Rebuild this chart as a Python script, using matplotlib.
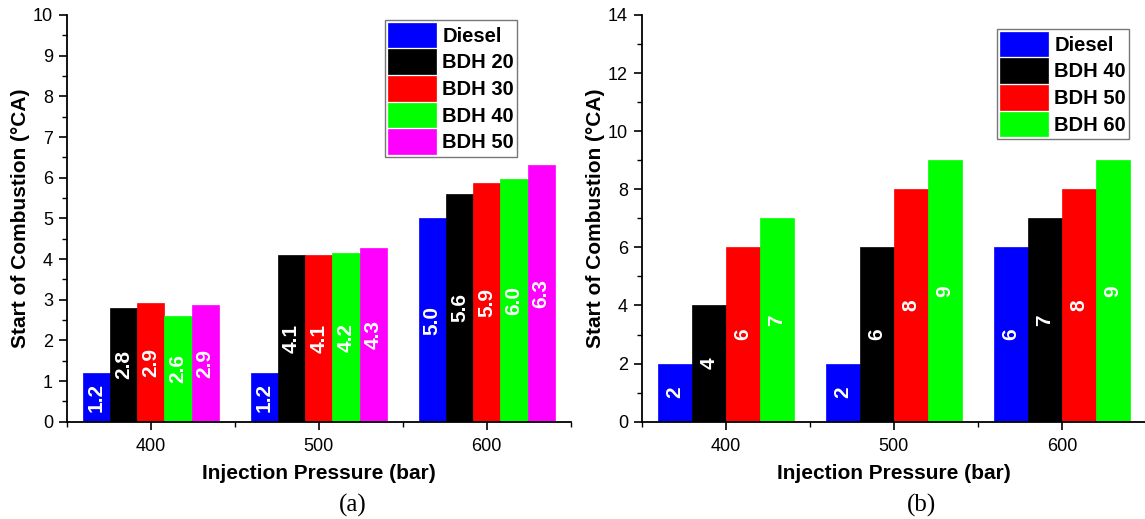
import matplotlib
matplotlib.use("Agg")
import matplotlib.pyplot as plt
import numpy as np
from matplotlib.ticker import MultipleLocator

plt.rcParams['font.family'] = ['Liberation Sans', 'DejaVu Sans']

# Chart (a)
pressures = [400, 500, 600]
labels_a = ["Diesel", "BDH 20", "BDH 30", "BDH 40", "BDH 50"]
colors_a = ["#0000FF", "#000000", "#FF0000", "#00FF00", "#FF00FF"]
soc_a = [
    [1.2, 1.2, 5.0],     # Diesel
    [2.8, 4.1, 5.6],     # BDH 20
    [2.92, 4.1, 5.86],   # BDH 30
    [2.6, 4.16, 5.97],   # BDH 40
    [2.86, 4.28, 6.3],   # BDH 50
]

# Chart (b)
labels_b = ["Diesel", "BDH 40", "BDH 50", "BDH 60"]
colors_b = ["#0000FF", "#000000", "#FF0000", "#00FF00"]
soc_b = [
    [2, 2, 6],   # Diesel
    [4, 6, 7],   # BDH 40
    [6, 8, 8],   # BDH 50
    [7, 9, 9],   # BDH 60
]


def draw_panel(ax, series, names, colors, group_w, fmt, ymax, ymajor, yminor, leg_anchor):
    n = len(series)
    w = group_w / n
    x = np.array(pressures, dtype=float)
    for i, (vals, name, c) in enumerate(zip(series, names, colors)):
        pos = x - group_w / 2 + w * (i + 0.5)
        ax.bar(pos, vals, width=w, color=c, edgecolor=c, linewidth=0.5, label=name, zorder=2)
        for px, v in zip(pos, vals):
            ax.text(px, v / 2, fmt.format(v), rotation=90, ha="center", va="center",
                    color="white", fontweight="bold", fontsize=15, zorder=3)

    ax.set_xlim(350, 650)
    ax.set_ylim(0, ymax)
    ax.set_xticks(pressures)
    ax.set_xticks([350, 450, 550, 650], minor=True)
    ax.yaxis.set_major_locator(MultipleLocator(ymajor))
    ax.yaxis.set_minor_locator(MultipleLocator(yminor))
    for s in ["top", "right"]:
        ax.spines[s].set_visible(False)
    for s in ["left", "bottom"]:
        ax.spines[s].set_linewidth(1.3)
    ax.tick_params(which="major", direction="out", length=6, width=1.2, labelsize=13)
    ax.tick_params(which="minor", direction="out", length=3.5, width=1.0)
    ax.tick_params(axis="y", pad=4)
    ax.tick_params(axis="x", pad=6)
    ax.set_xlabel("Injection Pressure (bar)", fontsize=15, fontweight="bold", labelpad=6)
    ax.set_ylabel("Start of Combustion (°CA)", fontsize=15, fontweight="bold", labelpad=2)

    leg = ax.legend(loc="upper right", bbox_to_anchor=leg_anchor, borderaxespad=0,
                    prop={"weight": "bold", "size": 14.5}, handlelength=2.4,
                    handleheight=1.5, labelspacing=0.1, handletextpad=0.3,
                    borderpad=0.15, fancybox=False, framealpha=1)
    leg.get_frame().set_edgecolor("#777777")
    leg.get_frame().set_linewidth(1.0)


fig = plt.figure(figsize=(11.45, 5.19), dpi=100)
ax1 = fig.add_axes([0.0584, 0.1875, 0.44, 0.7836])
ax2 = fig.add_axes([0.5607, 0.1875, 0.44, 0.7836])

draw_panel(ax1, soc_a, labels_a, colors_a, 81, "{:.1f}", 10, 1, 0.5, (0.894, 0.988))
draw_panel(ax2, soc_b, labels_b, colors_b, 81, "{:d}", 14, 2, 1, (0.967, 0.966))

fig.text(353 / 1145, 1 - 505 / 519, "(a)", ha="center", va="center",
         family="Liberation Serif", fontsize=18)
fig.text(922 / 1145, 1 - 505 / 519, "(b)", ha="center", va="center",
         family="Liberation Serif", fontsize=18)

fig.savefig("out.png", dpi=100)
